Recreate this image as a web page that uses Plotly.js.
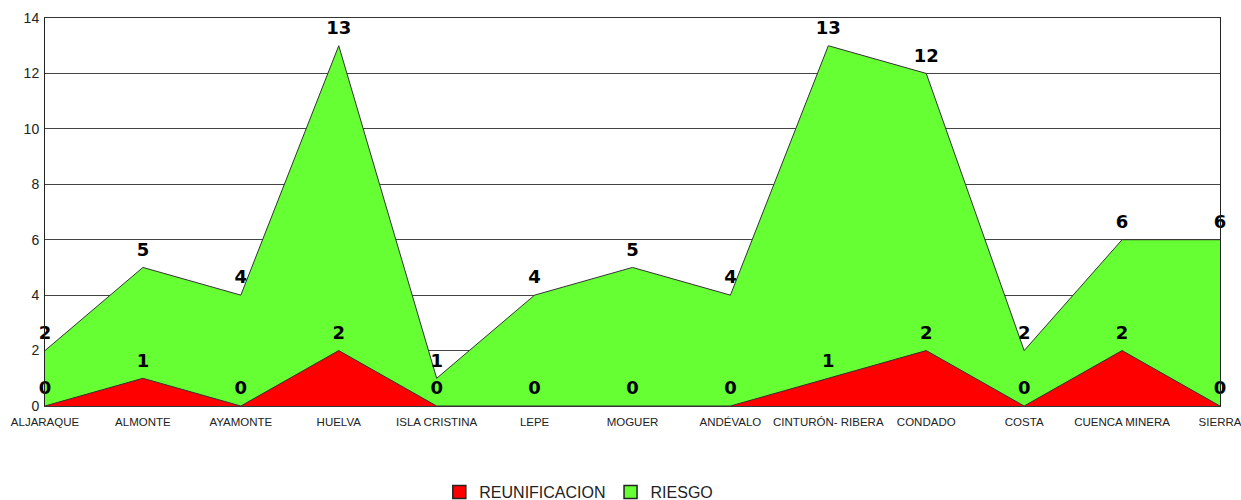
<!DOCTYPE html>
<html>
<head>
<meta charset="utf-8">
<script src="https://cdn.plot.ly/plotly-3.0.1.min.js"></script>
<style>html,body{margin:0;padding:0;background:#fff;}#chart{width:1241px;height:500px;}</style>
</head>
<body>
<div id="chart"></div>
<script>
const categories = ["ALJARAQUE","ALMONTE","AYAMONTE","HUELVA","ISLA CRISTINA","LEPE","MOGUER","ANDÉVALO","CINTURÓN- RIBERA","CONDADO","COSTA","CUENCA MINERA","SIERRA"];
const reunificacion = [0,1,0,2,0,0,0,0,1,2,0,2,0];
const riesgo = [2,5,4,13,1,4,5,4,13,12,2,6,6];
const seriesNames = ["REUNIFICACION","RIESGO"];
const seriesColors = ["#FF0000","#66FF33"];

const labelFont = {family: "DejaVu Sans, Verdana, sans-serif", size: 18, color: "#000", weight: "bold"};

function areaTrace(vals, name, color) {
  return {
    x: categories, y: vals, name: name, type: "scatter", mode: "lines+markers+text",
    fill: "tozeroy", fillcolor: color,
    line: {color: "#333333", width: 1},
    marker: {size: 10, color: "rgba(0,0,0,0)"},
    text: vals.map(String), textposition: "top center", textfont: labelFont,
    cliponaxis: false, showlegend: false
  };
}
function legendTrace(name, color) {
  return {
    x: [null], y: [null], name: name, type: "scatter", mode: "markers",
    marker: {symbol: "square", size: 13, color: color, line: {color: "#222", width: 1.5}},
    showlegend: true
  };
}

const traces = [
  areaTrace(riesgo, seriesNames[1], seriesColors[1]),
  areaTrace(reunificacion, seriesNames[0], seriesColors[0]),
  legendTrace(seriesNames[0], seriesColors[0]),
  legendTrace(seriesNames[1], seriesColors[1])
];

const layout = {
  width: 1241, height: 500,
  margin: {l: 45, r: 21, t: 18, b: 94, autoexpand: false},
  paper_bgcolor: "#fff", plot_bgcolor: "#fff",
  showlegend: true,
  legend: {
    orientation: "h", xref: "container", x: 0.354, xanchor: "left",
    yref: "container", y: 0.016, yanchor: "middle",
    font: {family: "Liberation Sans, Arial, sans-serif", size: 16, color: "#222"},
    itemwidth: 30, traceorder: "normal", tracegroupgap: 0
  },
  xaxis: {
    type: "category", range: [0, 12], showgrid: false, zeroline: false,
    showline: true, linecolor: "#333", linewidth: 1, mirror: true, automargin: false,
    ticks: "", tickangle: 0,
    tickfont: {family: "Liberation Sans, Arial, sans-serif", size: 11.5, color: "#222"},
    ticklabelstandoff: 5
  },
  yaxis: {
    range: [0, 14], dtick: 2, showgrid: true, gridcolor: "#444", gridwidth: 1,
    zeroline: false, showline: true, linecolor: "#222", linewidth: 1, mirror: true, automargin: false,
    ticks: "", tickfont: {family: "Liberation Sans, Arial, sans-serif", size: 14, color: "#222"},
    ticklabelstandoff: 2
  }
};

Plotly.newPlot("chart", traces, layout, {displayModeBar: false, staticPlot: true});
</script>
</body>
</html>
